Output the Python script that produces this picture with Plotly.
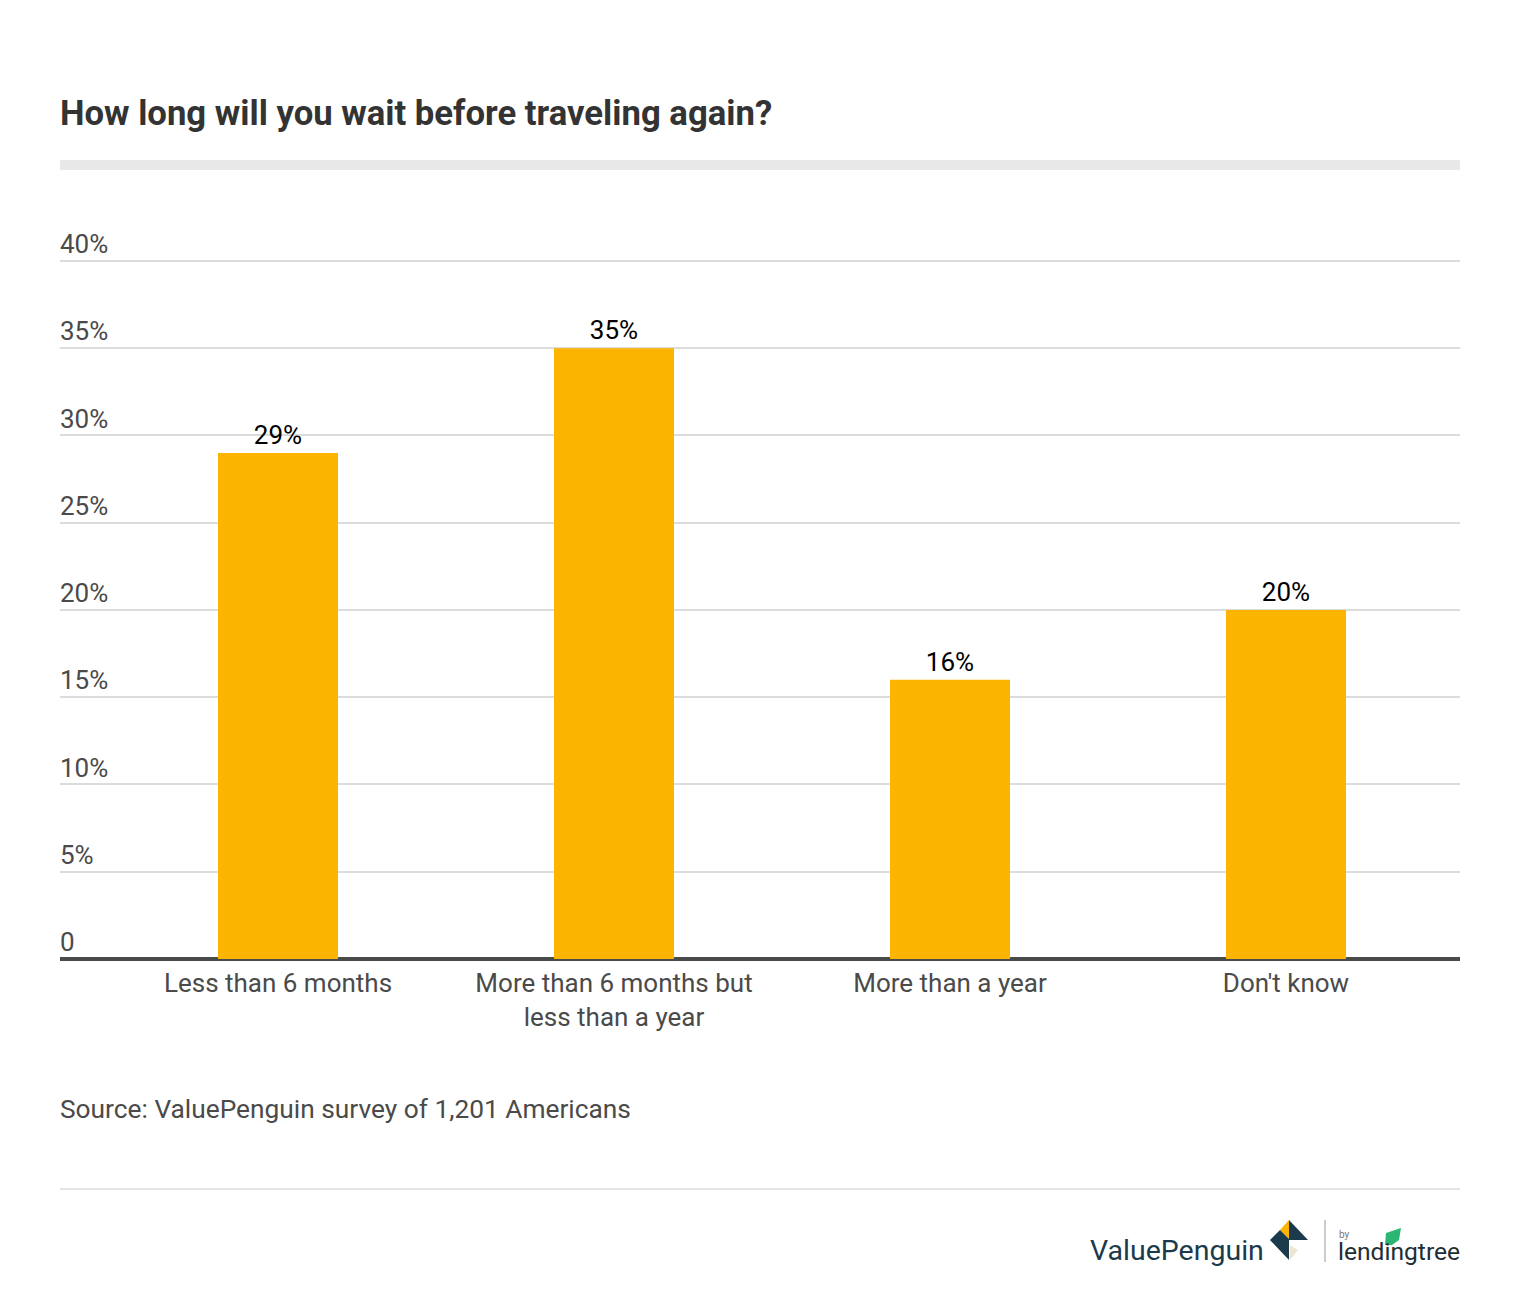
import plotly.graph_objects as go

categories = ["Less than 6 months", "More than 6 months but<br>less than a year", "More than a year", "Don't know"]
values = [29, 35, 16, 20]
value_labels = ["29%", "35%", "16%", "20%"]
y_ticks = [0, 5, 10, 15, 20, 25, 30, 35, 40]
y_tick_labels = ["0", "5%", "10%", "15%", "20%", "25%", "30%", "35%", "40%"]
title_text = "How long will you wait before traveling again?"
source_text = "Source: ValuePenguin survey of 1,201 Americans"

W, H = 1520, 1298
L, R = 60, 1460
T, B = 226.1, 959
FONT = "Roboto"
TXT = "#4a4a4a"

fig = go.Figure(go.Bar(
    x=[0, 1, 2, 3], y=values, width=120 / 336, marker=dict(color="#fbb400", line=dict(width=0)),
    text=value_labels, textposition="outside", cliponaxis=False,
    textfont=dict(family=FONT, size=26, color="#000000"), hoverinfo="skip",
))

def px(x): return (x - L) / (R - L)
def py(y): return 1 - (y - T) / (B - T)

def rect(x0, y0, x1, y1, color):
    fig.add_shape(type="rect", xref="paper", yref="paper", x0=px(x0), x1=px(x1), y0=py(y0), y1=py(y1),
                  fillcolor=color, line=dict(width=0), layer="above")

def poly(points, color):
    d = "M" + " L".join(f"{px(a)},{py(b)}" for a, b in points) + " Z"
    fig.add_shape(type="path", xref="paper", yref="paper", path=d, fillcolor=color, line=dict(width=0), layer="above")

def text(x, y, s, size, color=TXT, family=FONT, anchor="left"):
    fig.add_annotation(xref="paper", yref="paper", x=px(x), y=py(y), text=s, showarrow=False,
                       xanchor=anchor, yanchor="middle", align=anchor, borderpad=0, borderwidth=0,
                       font=dict(family=family, size=size, color=color))

text(60, 113.5, f"<b>{title_text}</b>", 34.7, "#333333")
rect(60, 160, 1460, 170, "#e8e8e8")
text(60, 1109, source_text, 26.3)
rect(60, 1188, 1460, 1190, "#e4e4e4")

# Logo
NAVY = "#1b3a4b"
text(1090, 1250, "ValuePenguin", 28.5, NAVY)
poly([(1289, 1220), (1308, 1240), (1289, 1240)], NAVY)
poly([(1289, 1220), (1289, 1239), (1280, 1230)], "#fbb400")
poly([(1270, 1240), (1280, 1230), (1289, 1239), (1289, 1260)], NAVY)
poly([(1290, 1245), (1298, 1250), (1290, 1260)], "#ece5cf")
rect(1324.5, 1220, 1325.5, 1262, "#9a9a9a")
text(1339, 1234, "by", 10, "#777777")
text(1338, 1251, "lendingtree", 24.6, "#222d33")
poly([(1385, 1245), (1386, 1233), (1401, 1228), (1399, 1240), (1392, 1245)], "#2bb673")

fig.update_layout(
    width=W, height=H, margin=dict(l=L, r=W - R, t=T, b=H - B, pad=0),
    paper_bgcolor="white", plot_bgcolor="white", showlegend=False,
    font=dict(family=FONT, size=26, color=TXT),
    xaxis=dict(range=[-218 / 336, 3 + 174 / 336], tickvals=[0, 1, 2, 3], ticktext=categories,
               showgrid=False, zeroline=False, showline=False, ticks="outside", ticklen=1,
               tickcolor="rgba(0,0,0,0)", tickfont=dict(family=FONT, size=26, color=TXT)),
    yaxis=dict(range=[0, 42], tickvals=y_ticks, ticktext=y_tick_labels, ticklabelposition="inside",
               ticklabelshift=-17, ticklabelstandoff=-3, gridcolor="#dcdcdc", gridwidth=2, zeroline=True,
               zerolinecolor="#4a4a4a", zerolinewidth=4,
               tickfont=dict(family=FONT, size=26, color=TXT)),
)

fig.write_html("out.html", config=dict(displayModeBar=False), post_script="document.body.style.margin='0';")
